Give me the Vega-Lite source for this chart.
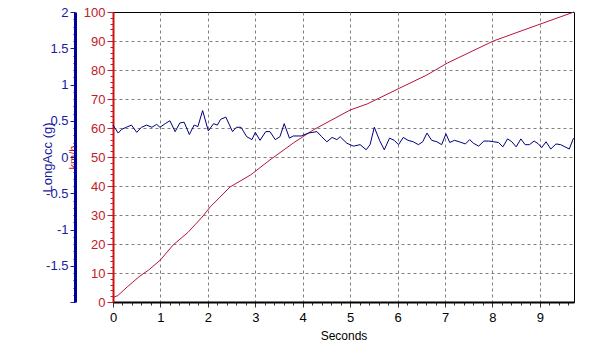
{
  "$schema": "https://vega.github.io/schema/vega-lite/v6.json",
  "width": 461,
  "height": 290,
  "autosize": {"type": "none"},
  "padding": {"left": 113, "top": 12, "right": 18, "bottom": 52},
  "background": "white",
  "config": {
    "view": {"stroke": "black", "strokeWidth": 1},
    "font": "Liberation Sans",
    "axis": {"labelFont": "Liberation Sans", "titleFont": "Liberation Sans", "titleFontWeight": "normal", "labelOverlap": false}
  },
  "datasets": {
    "speed": [
      {"t": 0, "kmh": 1.6}, {"t": 0.1, "kmh": 2.2}, {"t": 0.3, "kmh": 5.2}, {"t": 0.57, "kmh": 9}, {"t": 0.75, "kmh": 11}, {"t": 1.0, "kmh": 14.5},
      {"t": 1.27, "kmh": 19.7}, {"t": 1.58, "kmh": 24}, {"t": 1.88, "kmh": 29.3}, {"t": 2.05, "kmh": 32.8},
      {"t": 2.47, "kmh": 39.7}, {"t": 2.9, "kmh": 43.8}, {"t": 3.31, "kmh": 49}, {"t": 3.8, "kmh": 54.8},
      {"t": 4.22, "kmh": 59.3}, {"t": 5.0, "kmh": 66.2}, {"t": 5.36, "kmh": 68.3}, {"t": 6.05, "kmh": 73.8},
      {"t": 6.62, "kmh": 78.3}, {"t": 7.05, "kmh": 82.4}, {"t": 8.02, "kmh": 90}, {"t": 8.95, "kmh": 95.5},
      {"t": 9.72, "kmh": 100}
    ],
    "acc": [
      {"t": 0, "g": 0.44}, {"t": 0.11, "g": 0.33}, {"t": 0.18, "g": 0.38}, {"t": 0.28, "g": 0.41}, {"t": 0.39, "g": 0.44},
      {"t": 0.5, "g": 0.34}, {"t": 0.6, "g": 0.41}, {"t": 0.71, "g": 0.44}, {"t": 0.82, "g": 0.41}, {"t": 0.92, "g": 0.45},
      {"t": 0.99, "g": 0.41}, {"t": 1.1, "g": 0.46}, {"t": 1.2, "g": 0.5}, {"t": 1.31, "g": 0.35}, {"t": 1.41, "g": 0.47},
      {"t": 1.5, "g": 0.48}, {"t": 1.61, "g": 0.31}, {"t": 1.71, "g": 0.44}, {"t": 1.79, "g": 0.42}, {"t": 1.89, "g": 0.64},
      {"t": 2.01, "g": 0.36}, {"t": 2.12, "g": 0.46}, {"t": 2.2, "g": 0.44}, {"t": 2.27, "g": 0.52}, {"t": 2.38, "g": 0.55},
      {"t": 2.52, "g": 0.35}, {"t": 2.6, "g": 0.41}, {"t": 2.7, "g": 0.41}, {"t": 2.82, "g": 0.28}, {"t": 2.93, "g": 0.24},
      {"t": 3.0, "g": 0.34}, {"t": 3.1, "g": 0.23}, {"t": 3.22, "g": 0.35}, {"t": 3.31, "g": 0.35}, {"t": 3.42, "g": 0.24},
      {"t": 3.52, "g": 0.28}, {"t": 3.61, "g": 0.46}, {"t": 3.72, "g": 0.26}, {"t": 3.8, "g": 0.29}, {"t": 3.97, "g": 0.29},
      {"t": 4.12, "g": 0.33}, {"t": 4.3, "g": 0.35}, {"t": 4.4, "g": 0.28}, {"t": 4.51, "g": 0.21}, {"t": 4.62, "g": 0.27},
      {"t": 4.72, "g": 0.24}, {"t": 4.79, "g": 0.28}, {"t": 4.93, "g": 0.19}, {"t": 5.07, "g": 0.15}, {"t": 5.21, "g": 0.17},
      {"t": 5.34, "g": 0.1}, {"t": 5.42, "g": 0.17}, {"t": 5.51, "g": 0.41}, {"t": 5.62, "g": 0.23}, {"t": 5.72, "g": 0.1},
      {"t": 5.83, "g": 0.26}, {"t": 5.93, "g": 0.23}, {"t": 6.02, "g": 0.17}, {"t": 6.12, "g": 0.27}, {"t": 6.22, "g": 0.23},
      {"t": 6.33, "g": 0.21}, {"t": 6.44, "g": 0.17}, {"t": 6.53, "g": 0.21}, {"t": 6.62, "g": 0.33}, {"t": 6.72, "g": 0.23},
      {"t": 6.83, "g": 0.21}, {"t": 6.93, "g": 0.17}, {"t": 7.02, "g": 0.32}, {"t": 7.1, "g": 0.2}, {"t": 7.2, "g": 0.23},
      {"t": 7.3, "g": 0.21}, {"t": 7.43, "g": 0.18}, {"t": 7.52, "g": 0.24}, {"t": 7.6, "g": 0.19}, {"t": 7.71, "g": 0.15},
      {"t": 7.82, "g": 0.22}, {"t": 7.92, "g": 0.22}, {"t": 8.03, "g": 0.21}, {"t": 8.13, "g": 0.2}, {"t": 8.22, "g": 0.14},
      {"t": 8.32, "g": 0.25}, {"t": 8.41, "g": 0.21}, {"t": 8.5, "g": 0.14}, {"t": 8.6, "g": 0.25}, {"t": 8.69, "g": 0.17},
      {"t": 8.78, "g": 0.17}, {"t": 8.88, "g": 0.22}, {"t": 8.97, "g": 0.18}, {"t": 9.04, "g": 0.13}, {"t": 9.13, "g": 0.21},
      {"t": 9.23, "g": 0.11}, {"t": 9.34, "g": 0.18}, {"t": 9.44, "g": 0.17}, {"t": 9.53, "g": 0.14}, {"t": 9.62, "g": 0.11},
      {"t": 9.71, "g": 0.26}
    ]
  },
  "encoding": {
    "x": {
      "field": "t", "type": "quantitative",
      "scale": {"domain": [0, 9.72], "nice": false, "zero": false},
      "axis": {
        "title": "Seconds",
        "values": [0,0.2,0.4,0.6,0.8,1,1.2,1.4,1.6,1.8,2,2.2,2.4,2.6,2.8,3,3.2,3.4,3.6,3.8,4,4.2,4.4,4.6,4.8,5,5.2,5.4,5.6,5.8,6,6.2,6.4,6.6,6.8,7,7.2,7.4,7.6,7.8,8,8.2,8.4,8.6,8.8,9,9.2,9.4,9.6],
        "labelExpr": "datum.value % 1 === 0 ? '' + datum.value : ''",
        "labelFontSize": 13, "labelColor": "black", "labelPadding": 4, "labelFlush": false,
        "tickSize": {"condition": {"test": "datum.value % 1 === 0", "value": 5}, "value": 3},
        "tickColor": "#333",
        "gridOpacity": {"condition": {"test": "datum.value % 1 !== 0 || datum.value === 0", "value": 0}, "value": 1},
        "grid": true, "gridColor": "#808080", "gridDash": [3, 3], "gridWidth": 1,
        "domainColor": "black", "domainWidth": 2,
        "titleFontSize": 12, "titleColor": "black", "titlePadding": 6
      }
    }
  },
  "layer": [
    {
      "data": {"name": "speed"},
      "mark": {"type": "line", "color": "#b8143a", "strokeWidth": 1},
      "encoding": {
        "y": {
          "field": "kmh", "type": "quantitative",
          "scale": {"domain": [0, 100], "nice": false},
          "axis": {
            "orient": "left",
            "title": "km/h",
            "titleColor": "#c0202a", "titleFontSize": 11,
            "titleAngle": -90, "titleX": -40, "titleY": 145, "titleAlign": "center", "titleBaseline": "middle",
            "values": [0,2,4,6,8,10,12,14,16,18,20,22,24,26,28,30,32,34,36,38,40,42,44,46,48,50,52,54,56,58,60,62,64,66,68,70,72,74,76,78,80,82,84,86,88,90,92,94,96,98,100],
            "labelExpr": "datum.value % 10 === 0 ? '' + datum.value : ''",
            "labelFontSize": 13, "labelColor": "#c0202a", "labelPadding": 2,
            "tickSize": {"condition": {"test": "datum.value % 10 === 0", "value": 6}, "value": 3},
            "tickColor": "#c0202a",
            "grid": true, "gridColor": "#808080", "gridDash": [3, 3],
            "gridOpacity": {"condition": {"test": "datum.value % 10 !== 0 || datum.value === 0 || datum.value === 100", "value": 0}, "value": 1},
            "domainColor": "#d01010", "domainWidth": 2
          }
        }
      }
    },
    {
      "data": {"name": "acc"},
      "mark": {"type": "line", "color": "#000080", "strokeWidth": 1},
      "encoding": {
        "y": {
          "field": "g", "type": "quantitative",
          "scale": {"domain": [-2, 2], "nice": false, "zero": false},
          "axis": {
            "orient": "left",
            "offset": 38,
            "title": "LongAcc (g)",
            "titleColor": "#1a1aa0", "titleFontSize": 13,
            "titleAngle": -90, "titleX": -28, "titleY": 145, "titleAlign": "center", "titleBaseline": "middle",
            "values": [-2,-1.9,-1.8,-1.7,-1.6,-1.5,-1.4,-1.3,-1.2,-1.1,-1,-0.9,-0.8,-0.7,-0.6,-0.5,-0.4,-0.3,-0.2,-0.1,0,0.1,0.2,0.3,0.4,0.5,0.6,0.7,0.8,0.9,1,1.1,1.2,1.3,1.4,1.5,1.6,1.7,1.8,1.9,2],
            "labelExpr": "(abs(datum.value*2 - round(datum.value*2)) < 0.000001 && datum.value > -1.9) ? '' + datum.value : ''",
            "labelFontSize": 13, "labelColor": "#1a1aa0", "labelPadding": 2,
            "tickSize": {"condition": {"test": "abs(datum.value*2 - round(datum.value*2)) < 0.000001", "value": 5}, "value": 2},
            "tickColor": "#1a1aa0",
            "grid": false,
            "domainColor": "#0000a0", "domainWidth": 3
          }
        }
      }
    }
  ],
  "resolve": {"scale": {"y": "independent"}}
}
